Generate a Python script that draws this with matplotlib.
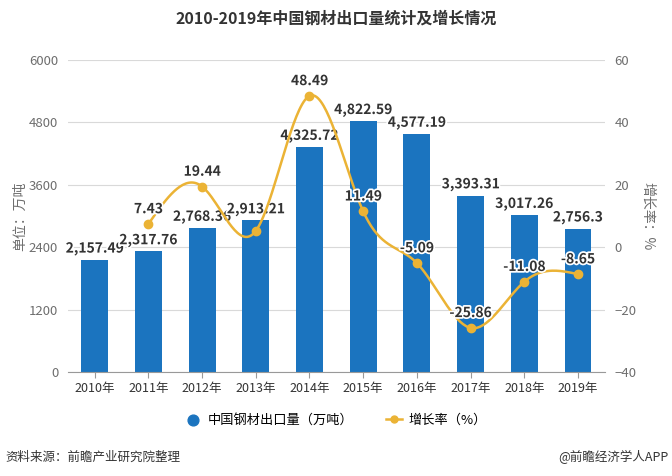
import matplotlib.pyplot as plt
import matplotlib.patheffects as pe
import numpy as np

plt.rcParams['font.family'] = ['Noto Sans CJK SC', 'DejaVu Sans']

years = ['2010年', '2011年', '2012年', '2013年', '2014年', '2015年', '2016年', '2017年', '2018年', '2019年']
export = [2157.49, 2317.76, 2768.36, 2913.21, 4325.72, 4822.59, 4577.19, 3393.31, 3017.26, 2756.3]
export_labels = ['2,157.49', '2,317.76', '2,768.36', '2,913.21', '4,325.72', '4,822.59', '4,577.19', '3,393.31', '3,017.26', '2,756.3']
# 2010 has no growth value; 2013 label is hidden in the source
growth = [None, 7.43, 19.44, 5.23, 48.49, 11.49, -5.09, -25.86, -11.08, -8.65]
growth_labels = ['', '7.43', '19.44', '', '48.49', '11.49', '-5.09', '-25.86', '-11.08', '-8.65']

bar_color = '#1b74bf'
line_color = '#ebb335'
text_color = '#333333'
axis_text = '#6e6e6e'


def natural_spline(x, y, n=300):
    # plain natural cubic spline, only for drawing the smoothed line
    x = np.asarray(x, float)
    y = np.asarray(y, float)
    k = len(x)
    h = np.diff(x)
    A = np.zeros((k, k))
    r = np.zeros(k)
    A[0, 0] = A[-1, -1] = 1
    for i in range(1, k - 1):
        A[i, i - 1] = h[i - 1]
        A[i, i] = 2 * (h[i - 1] + h[i])
        A[i, i + 1] = h[i]
        r[i] = 6 * ((y[i + 1] - y[i]) / h[i] - (y[i] - y[i - 1]) / h[i - 1])
    m = np.linalg.solve(A, r)
    xs = np.linspace(x[0], x[-1], n)
    ys = np.empty_like(xs)
    for j, xv in enumerate(xs):
        i = min(np.searchsorted(x, xv, side='right') - 1, k - 2)
        t = xv - x[i]
        hi = h[i]
        a = (y[i + 1] - y[i]) / hi - hi * (2 * m[i] + m[i + 1]) / 6
        ys[j] = y[i] + a * t + m[i] / 2 * t ** 2 + (m[i + 1] - m[i]) / (6 * hi) * t ** 3
    return xs, ys


fig = plt.figure(figsize=(6.72, 4.76), dpi=100)
ax = fig.add_axes([0.101, 0.2185, 0.799, 0.6555])
ax2 = ax.twinx()

halo = [pe.withStroke(linewidth=2.5, foreground='white')]

x = np.arange(len(years))
ax.bar(x, export, width=0.5, color=bar_color, zorder=2)
for xi, v, lab in zip(x, export, export_labels):
    ax.text(xi, v + 80, lab, ha='center', va='bottom', fontsize=10, fontweight='bold',
            color=text_color, zorder=5, path_effects=halo)

gx = [xi for xi, g in zip(x, growth) if g is not None]
gy = [g for g in growth if g is not None]
sx, sy = natural_spline(gx, gy)
ax2.plot(sx, sy, color=line_color, lw=1.8, zorder=3)
ax2.plot(gx, gy, 'o', color=line_color, ms=6, zorder=4)
for xi, g, lab in zip(x, growth, growth_labels):
    if g is not None and lab:
        ax2.text(xi, g + 2.5, lab, ha='center', va='bottom', fontsize=10, fontweight='bold',
                 color=text_color, zorder=5, path_effects=halo)

ax.set_ylim(0, 6000)
ax.set_yticks([0, 1200, 2400, 3600, 4800, 6000])
ax2.set_ylim(-40, 60)
ax2.set_yticks([-40, -20, 0, 20, 40, 60])
ax.set_xlim(-0.5, len(years) - 0.5)
ax.set_xticks(x)
ax.set_xticklabels(years)

ax.grid(axis='y', color='#d9d9d9', lw=0.8, zorder=0)
ax.set_axisbelow(True)
for a in (ax, ax2):
    for s in a.spines.values():
        s.set_visible(False)
    a.tick_params(axis='y', length=0, labelsize=9.5, colors=axis_text, pad=7)
ax.spines['bottom'].set_visible(True)
ax.spines['bottom'].set_color('#999999')
ax.tick_params(axis='x', length=4, color='#999999', labelsize=9, colors=text_color)

ax.set_ylabel('单位：万吨', fontsize=10, color=axis_text)
ax.yaxis.set_label_coords(-0.076, 0.5)
ax2.set_ylabel('增长率：%', fontsize=10, color=axis_text, rotation=-90, va='center')
ax2.yaxis.set_label_coords(1.080, 0.5)

fig.text(0.5, 0.962, '2010-2019年中国钢材出口量统计及增长情况', ha='center', va='center',
         fontsize=11.5, fontweight='bold', color='#333333')

h1 = ax.scatter([], [], s=60, color=bar_color)
h2, = ax.plot([], [], color=line_color, marker='o', ms=5, lw=1.8)
fig.legend([h1, h2], ['中国钢材出口量（万吨）', '增长率（%）'], loc='center', bbox_to_anchor=(0.5, 0.117),
           ncol=2, frameon=False, fontsize=9.5, handlelength=1.2, handletextpad=0.5, columnspacing=2.5)

fig.text(0.008, 0.04, '资料来源：前瞻产业研究院整理', fontsize=9, color='#333333', va='center')
fig.text(0.995, 0.04, '@前瞻经济学人APP', fontsize=9, color='#333333', va='center', ha='right')

fig.savefig('out.png', dpi=100)
